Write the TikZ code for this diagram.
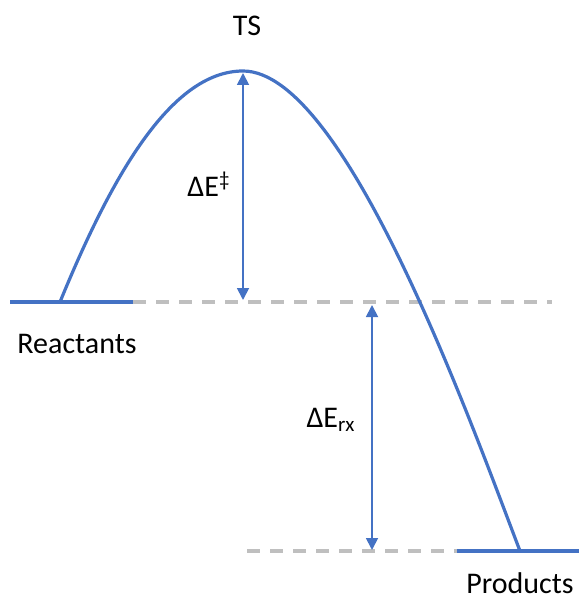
\documentclass[tikz,border=0pt]{standalone}
\usepackage{fontspec}
\setmainfont{Carlito}
\usepackage{xcolor}
\usepackage{tikz}
\usetikzlibrary{arrows.meta}

\definecolor{curveblue}{RGB}{68,114,196}
\definecolor{dashgray}{RGB}{191,191,191}

\begin{document}
\begin{tikzpicture}[x=0.5pt,y=-0.5pt,
    energyline/.style={curveblue,line width=1.6pt},
    dashline/.style={dashgray,line width=1.75pt,dash pattern=on 6.5pt off 5pt},
    gaparrow/.style={curveblue,line width=0.9pt,{Triangle[length=6pt,width=6pt]}-{Triangle[length=6pt,width=6pt]}},
    every node/.style={font=\fontsize{15}{18}\selectfont,inner sep=0pt}]
    \useasboundingbox (0,0) rectangle (579,599);
    \coordinate (r0) at (10,302);
    \coordinate (r1) at (133,302);
    \coordinate (rs) at (60,302);
    \coordinate (ts) at (243,71);
    \coordinate (ps) at (520,551);
    \coordinate (p0) at (457,551);
    \coordinate (p1) at (579,551);
    \coordinate (d1) at (552,302);
    \coordinate (d2) at (247,551);
    \coordinate (tstip) at (243,73);
    \coordinate (rtip) at (243,300);
    \coordinate (rxtop) at (372,305);
    \coordinate (rxbot) at (372,550);
    \draw[dashline] (r1) -- (d1);
    \draw[dashline] (d2) -- (p0);
    \draw[energyline] (r0) -- (r1);
    \draw[energyline] (p0) -- (p1);
    \draw[energyline] (rs) .. controls (110,180) and (170,71) .. (ts)
        .. controls (345,71) and (470,420) .. (ps);
    \draw[gaparrow] (rtip) -- (tstip);
    \draw[gaparrow] (rxtop) -- (rxbot);
    \node (tslabel) at (247,26) {TS};
    \node (react) at (77,344) {Reactants};
    \node (prod) at (520,583) {Products};
    \node (barrier) at (209,184) {ΔE\textsuperscript{‡}};
    \node (erx) at (331,420) {ΔE\textsubscript{rx}};
\end{tikzpicture}
\end{document}
